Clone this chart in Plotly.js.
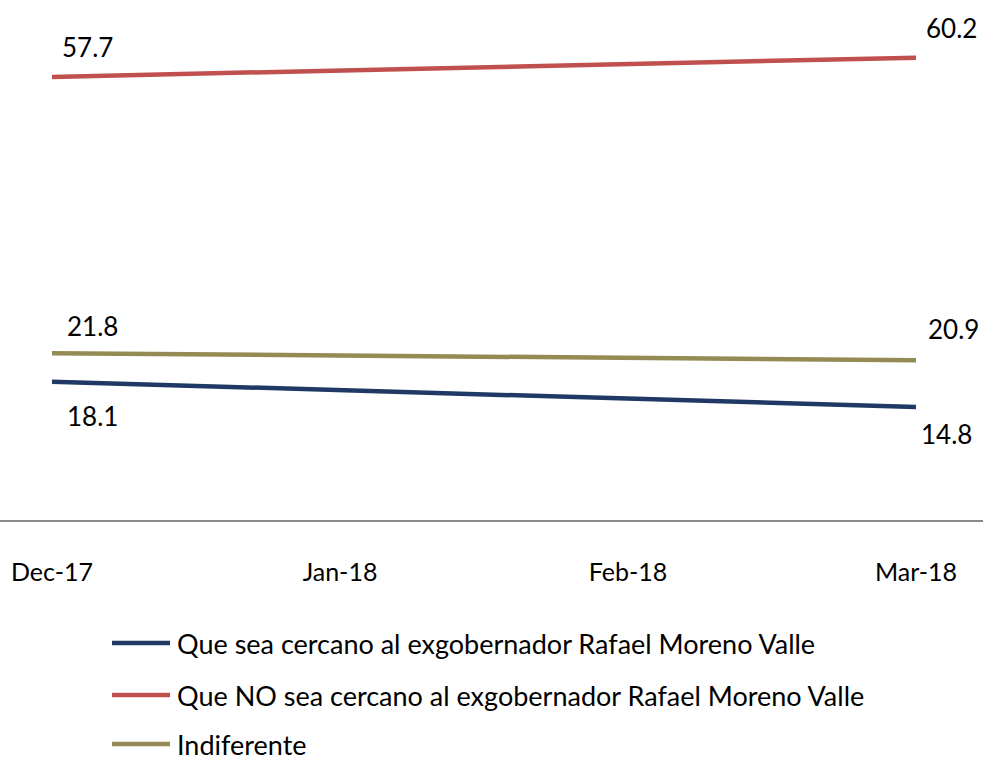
<!DOCTYPE html>
<html>
<head>
<meta charset="utf-8">
<script src="https://cdn.plot.ly/plotly-3.0.1.min.js"></script>
<style>html,body{margin:0;padding:0;background:#fff;}#chart{width:983px;height:762px;}</style>
</head>
<body>
<div id="chart"></div>
<script>
const categories = ["Dec-17", "Jan-18", "Feb-18", "Mar-18"];
const seriesNames = [
  "Que sea cercano al exgobernador Rafael Moreno Valle",
  "Que NO sea cercano al exgobernador Rafael Moreno Valle",
  "Indiferente"
];
const cercano = [18.1, null, null, 14.8];
const noCercano = [57.7, null, null, 60.2];
const indiferente = [21.8, null, null, 20.9];
const colors = ["#1F3864", "#C0504D", "#948A54"];

const FONT = "Lato, 'Open Sans', sans-serif";
const series = [cercano, noCercano, indiferente];

const traces = series.map((vals, i) => ({
  type: "scatter",
  mode: "lines",
  x: categories,
  y: vals,
  name: seriesNames[i],
  connectgaps: true,
  line: {color: colors[i], width: 4.5},
  hoverinfo: "x+y"
}));

// label offsets: [xshift, yshift] per series, for first and last points
const labelShift = [
  [[40, -34], [30, -27]],
  [[35, 30], [35, 30]],
  [[40, 27], [37, 31]]
];
const annotations = [];
series.forEach((vals, i) => {
  [0, vals.length - 1].forEach((idx, k) => {
    annotations.push({
      x: idx, y: vals[idx], xref: "x", yref: "y",
      text: vals[idx].toFixed(1),
      showarrow: false,
      xshift: labelShift[i][k][0],
      yshift: labelShift[i][k][1],
      font: {family: FONT, size: 26, color: "#000"}
    });
  });
});

// custom legend (below the plot) built from series names and colours
const W = 983, PLOT_H = 508, MT = 13;
const legendRowsPx = [643, 695, 744];
const shapes = [];
seriesNames.forEach((name, i) => {
  const yPaper = (MT + PLOT_H - legendRowsPx[i]) / PLOT_H;
  shapes.push({
    type: "line", xref: "paper", yref: "paper",
    x0: 112 / W, x1: 170 / W, y0: yPaper, y1: yPaper,
    line: {color: colors[i], width: 4.5}
  });
  annotations.push({
    xref: "paper", yref: "paper", x: 175 / W, y: yPaper,
    xanchor: "left", yanchor: "middle", showarrow: false,
    text: name,
    font: {family: FONT, size: 27, color: "#000"}
  });
});

const layout = {
  width: W, height: 762,
  margin: {l: 0, r: 0, t: MT, b: 241, autoexpand: false},
  paper_bgcolor: "#fff", plot_bgcolor: "#fff",
  font: {family: FONT, size: 25, color: "#000"},
  showlegend: false,
  xaxis: {
    type: "category",
    range: [-0.1806, 3.2326],
    showgrid: false,
    zeroline: false,
    showline: false,
    ticks: "",
    automargin: false,
    tickfont: {family: FONT, size: 25, color: "#000"},
    ticklabelstandoff: 34,
    fixedrange: true
  },
  yaxis: {
    range: [0, 66],
    showgrid: false,
    zeroline: true,
    zerolinecolor: "#898989",
    zerolinewidth: 2,
    showticklabels: false,
    ticks: "",
    showline: false,
    automargin: false,
    fixedrange: true
  },
  shapes: shapes,
  annotations: annotations
};

Plotly.newPlot("chart", traces, layout, {displayModeBar: false, staticPlot: true});
</script>
</body>
</html>
